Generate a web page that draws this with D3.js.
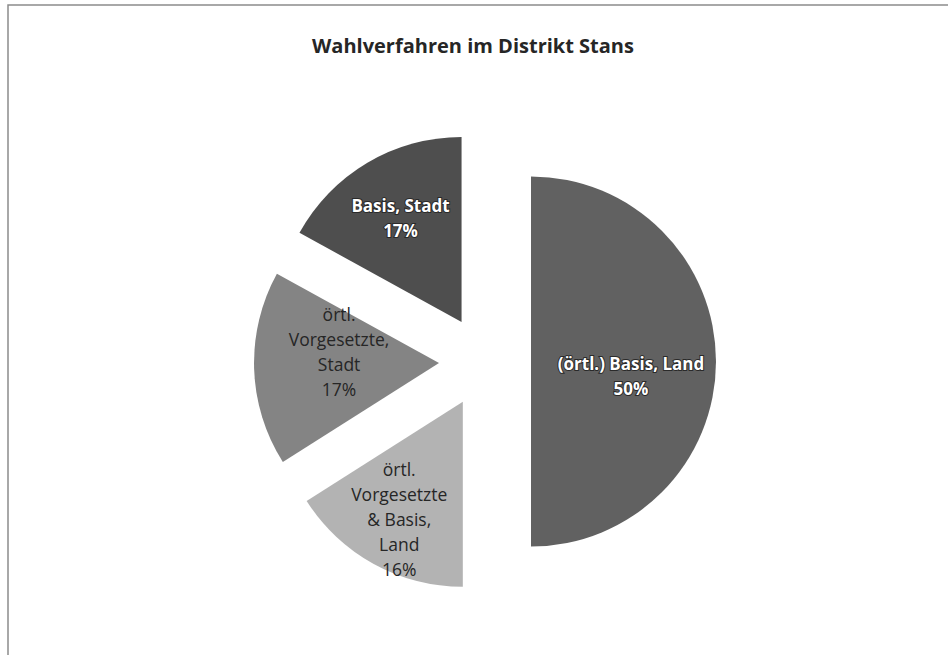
<!DOCTYPE html>
<html>
<head>
<meta charset="utf-8">
<script src="https://cdn.jsdelivr.net/npm/d3@7"></script>
<style>
  body { margin: 0; background: #fff; }
  svg { display: block; }
</style>
</head>
<body>
<div id="chart"></div>
<script>
const titleText = "Wahlverfahren im Distrikt Stans";
const categories = [
  ["(örtl.) Basis, Land"],
  ["örtl.", "Vorgesetzte", "& Basis,", "Land"],
  ["örtl.", "Vorgesetzte,", "Stadt"],
  ["Basis, Stadt"]
];
const values = [50, 16, 17, 17];
const percentLabels = ["50%", "16%", "17%", "17%"];

const fullwidth = 948;
const fullheight = 655;
const cx = 485;
const cy = 361.5;
const radius = 185;
const explode = 46;

// label styling per slice (dark slices get white bold text)
const sliceFill = ["#616161", "#b3b3b3", "#848484", "#4e4e4e"];
const labelWhite = [true, false, false, true];
const labelDist = [100, 132, 100, 120];
const labelDy = [15, 2, -14, 0];

var svg = d3.select("#chart").append("svg").
attr("width", fullwidth).
attr("height", fullheight);

// frame lines
svg.append("path").
attr("d", "M8,655 L8,5 L948,5").
attr("fill", "none").
attr("stroke", "#8c8c8c").
attr("stroke-width", 1.5);

svg.append("text").
attr("x", 473).
attr("y", 53).
attr("text-anchor", "middle").
style("font-family", "'Open Sans', sans-serif").
style("font-weight", "bold").
style("font-size", "20px").
style("fill", "#262626").
text(titleText);

var pie = d3.pie().sort(null).value(d => d);
var arcs = pie(values);
var arc = d3.arc().innerRadius(0).outerRadius(radius);

var g = svg.append("g").attr("transform", "translate(" + cx + "," + cy + ")");

function dir(d) {
  var a = (d.startAngle + d.endAngle) / 2;
  return [Math.sin(a), -Math.cos(a)];
}

g.selectAll("path.slice").
data(arcs).
enter().
append("path").
attr("class", "slice").
attr("d", arc).
attr("transform", function (d) {
  var v = dir(d);
  return "translate(" + v[0] * explode + "," + v[1] * explode + ")";
}).
style("fill", (d, i) => sliceFill[i]);

g.selectAll("text.label").
data(arcs).
enter().
append("text").
attr("class", "label").
attr("text-anchor", "middle").
style("font-family", "'Open Sans', sans-serif").
style("font-size", (d, i) => labelWhite[i] ? "17px" : "17.5px").
style("font-weight", (d, i) => labelWhite[i] ? "bold" : "normal").
style("fill", (d, i) => labelWhite[i] ? "#ffffff" : "#262626").
style("stroke", (d, i) => labelWhite[i] ? "#2a2a2a" : "none").
style("stroke-width", 2).
style("paint-order", "stroke").
each(function (d, i) {
  var v = dir(d);
  var x = v[0] * (explode + labelDist[i]);
  var y = v[1] * (explode + labelDist[i]) + labelDy[i];
  var lines = categories[i].concat([percentLabels[i]]);
  var lh = 25;
  var y0 = y - (lines.length - 1) * lh / 2;
  var t = d3.select(this);
  lines.forEach(function (s, k) {
    t.append("tspan").
    attr("x", x).
    attr("y", y0 + k * lh).
    attr("dy", "0.35em").
    text(s);
  });
});
</script>
</body>
</html>
